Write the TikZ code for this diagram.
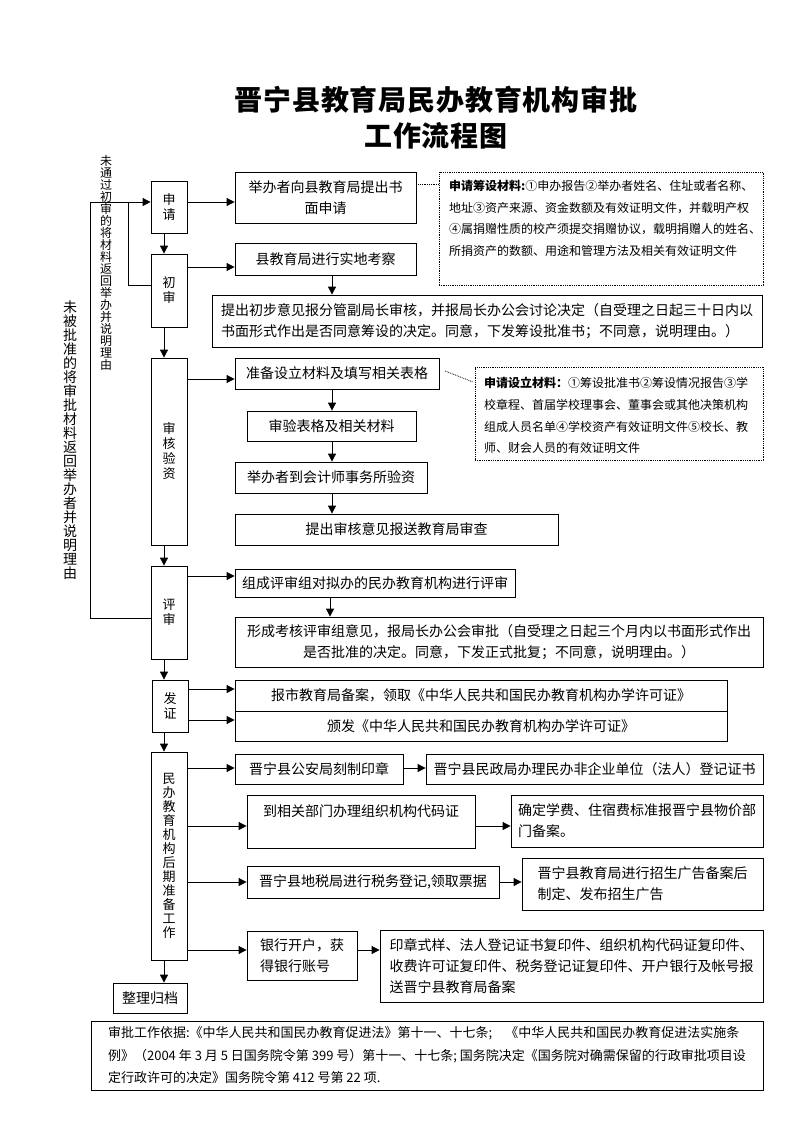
\documentclass[tikz,border=0pt]{standalone}
\usepackage{fontspec}
\setmainfont{Noto Sans CJK SC}
\usetikzlibrary{arrows.meta}
\newcommand\tightlines{\lineskiplimit=-30pt\lineskip=0pt}
\begin{document}
\begin{tikzpicture}[x=1pt,y=-1pt,
  wh/.style 2 args={minimum width=#1pt, minimum height=#2pt},
  box/.style={draw, line width=0.8pt, inner sep=0pt, align=center, font=\fontsize{14}{21}\selectfont\tightlines},
  lbox/.style={box, align=left},
  side/.style={box, font=\fontsize{13}{15}\selectfont\tightlines},
  note/.style={draw, densely dotted, line width=0.8pt},
  notetext/.style={anchor=north west, align=left, inner sep=0pt, font=\fontsize{12}{21.7}\selectfont\tightlines},
  vtext/.style={align=center, inner sep=0pt},
  arr/.style={line width=0.8pt, -{Triangle[length=8pt,width=8pt]}},
  ln/.style={line width=0.8pt},
  dotln/.style={line width=0.8pt, densely dotted}
  ]
\useasboundingbox (0,0) rectangle (793,1122);

% title
\node[inner sep=0pt, font=\fontsize{28}{36}\selectfont\bfseries\addfontfeature{LetterSpace=3}] (t1) at (436,100) {晋宁县教育局民办教育机构审批};
\node[inner sep=0pt, font=\fontsize{28}{36}\selectfont\bfseries\addfontfeature{LetterSpace=3}] (t2) at (436,136) {工作流程图};

% left column
\node[side, wh={36}{52}] (sq) at (169,207) {申\\请};
\node[side, wh={36}{73}] (cs) at (169,290.5) {初\\审};
\node[side, wh={36}{187}] (sh) at (169,451.5) {审\\核\\验\\资};
\node[side, wh={36}{93}] (ps) at (169,612.5) {评\\审};
\node[side, wh={36}{52}] (fz) at (170,706) {发\\证};
\node[side, wh={36}{208}, font=\fontsize{13}{14}\selectfont\tightlines] (mb) at (169,856) {民\\办\\教\\育\\机\\构\\后\\期\\准\\备\\工\\作};
\node[box, wh={74}{30}] (zl) at (150,998) {整理归档};

% side notes (vertical)
\node[vtext, font=\fontsize{12}{12}\selectfont\tightlines] (v1) at (106,263) {未\\通\\过\\初\\审\\的\\将\\材\\料\\返\\回\\举\\办\\并\\说\\明\\理\\由};
\node[vtext, font=\fontsize{14}{14}\selectfont\tightlines] (v2) at (70,440) {未\\被\\批\\准\\的\\将\\审\\批\\材\\料\\返\\回\\举\\办\\者\\并\\说\\明\\理\\由};

% right boxes
\node[box, wh={181}{51}] (b1) at (325.5,197.5) {举办者向县教育局提出书\\面申请};
\node[note, wh={324}{113}] (n1) at (601,228.5) {};
\node[notetext] (n1t) at (449,180) {{\bfseries 申请筹设材料:}①申办报告②举办者姓名、住址或者名称、\\地址③资产来源、资金数额及有效证明文件，并载明产权\\④属捐赠性质的校产须提交捐赠协议，载明捐赠人的姓名、\\所捐资产的数额、用途和管理方法及相关有效证明文件};
\node[box, wh={181}{32}] (b2) at (325.5,259) {县教育局进行实地考察};
\node[lbox, wh={550}{52}] (b3) at (487,321) {提出初步意见报分管副局长审核，并报局长办公会讨论决定（自受理之日起三十日内以\\书面形式作出是否同意筹设的决定。同意，下发筹设批准书；不同意，说明理由。）};

\node[box, wh={204}{31}] (b4) at (337,373.5) {准备设立材料及填写相关表格};
\node[box, wh={169}{30}] (b5) at (331.5,426) {审验表格及相关材料};
\node[box, wh={192}{31}] (b6) at (331,477.5) {举办者到会计师事务所验资};
\node[box, wh={323}{31}] (b7) at (396.5,529.5) {提出审核意见报送教育局审查};
\node[note, wh={288}{93}] (n2) at (619,413.5) {};
\node[notetext] (n2t) at (484,377) {{\bfseries 申请设立材料：}①筹设批准书②筹设情况报告③学\\校章程、首届学校理事会、董事会或其他决策机构\\组成人员名单④学校资产有效证明文件⑤校长、教\\师、财会人员的有效证明文件};

\node[box, wh={280}{28}] (b8) at (375,583) {组成评审组对拟办的民办教育机构进行评审};
\node[box, wh={528}{50}] (b9) at (499,642) {形成考核评审组意见，报局长办公会审批（自受理之日起三个月内以书面形式作出\\是否批准的决定。同意，下发正式批复；不同意，说明理由。）};

\node[box, wh={492}{31}] (b10) at (481,695.5) {报市教育局备案，领取《中华人民共和国民办教育机构办学许可证》};
\node[box, wh={492}{30}] (b11) at (481,726) {颁发《中华人民共和国民办教育机构办学许可证》};

\node[box, wh={168}{30}] (b12) at (319,769) {晋宁县公安局刻制印章};
\node[box, wh={337}{30}] (b13) at (594.5,769) {晋宁县民政局办理民办非企业单位（法人）登记证书};
\node[lbox, wh={228}{53}] (b14) at (361,821.5) {到相关部门办理组织机构代码证\\\mbox{}};
\node[lbox, wh={252}{52}] (b15) at (637,821) {确定学费、住宿费标准报晋宁县物价部\\门备案。};
\node[box, wh={252}{32}] (b16) at (373,882) {晋宁县地税局进行税务登记,领取票据};
\node[lbox, wh={241}{52}] (b17) at (642.5,884) {晋宁县教育局进行招生广告备案后\\制定、发布招生广告};
\node[lbox, wh={110}{49}] (b18) at (302,955.5) {银行开户，获\\得银行账号};
\node[lbox, wh={383}{72}] (b19) at (571.5,966) {印章式样、法人登记证书复印件、组织机构代码证复印件、\\收费许可证复印件、税务登记证复印件、开户银行及帐号报\\送晋宁县教育局备案};

\node[lbox, wh={672}{69}, font=\fontsize{13}{22.5}\selectfont\tightlines] (bb) at (427,1055.5) {审批工作依据:《中华人民共和国民办教育促进法》第十一、十七条;\quad《中华人民共和国民办教育促进法实施条\\例》（2004 年 3 月 5 日国务院令第 399 号）第十一、十七条; 国务院决定《国务院对确需保留的行政审批项目设\\定行政许可的决定》国务院令第 412 号第 22 项.};

% helper coordinates
\coordinate (ax) at (164,0);
\coordinate (bx) at (332,0);
\coordinate (cx) at (330,0);
\coordinate (L184) at (0,184);
\coordinate (L202) at (0,202);
\coordinate (L267) at (0,267);
\coordinate (L285) at (0,285);
\coordinate (L379) at (0,379);
\coordinate (L576) at (0,576);
\coordinate (L618) at (0,618);
\coordinate (L689) at (0,689);
\coordinate (L720) at (0,720);
\coordinate (L768) at (0,768);
\coordinate (L826) at (0,826);
\coordinate (L882) at (0,882);
\coordinate (L950) at (0,950);
\coordinate (o1) at (90,202);
\coordinate (i1) at (128,202);
\coordinate (d1) at (445,371);
\coordinate (d2) at (473,382);

% main vertical flow
\draw[arr] (sq.south -| ax) -- (cs.north -| ax);
\draw[arr] (cs.south -| ax) -- (sh.north -| ax);
\draw[arr] (sh.south -| ax) -- (ps.north -| ax);
\draw[arr] (ps.south -| ax) -- (fz.north -| ax);
\draw[arr] (fz.south -| ax) -- (mb.north -| ax);
\draw[arr] (mb.south -| ax) -- (zl.north -| ax);

% horizontal arrows
\draw[arr] (sq.east |- L202) -- (b1.west |- L202);
\draw[arr] (cs.east |- L267) -- (b2.west |- L267);
\draw[arr] (b2.south -| bx) -- (b3.north -| bx);
\draw[arr] (sh.east |- L379) -- (b4.west |- L379);
\draw[arr] (b4.south -| bx) -- (b5.north -| bx);
\draw[arr] (b5.south -| bx) -- (b6.north -| bx);
\draw[arr] (b6.south -| bx) -- (b7.north -| bx);
\draw[arr] (ps.east |- L576) -- (b8.west |- L576);
\draw[arr] (b8.south -| cx) -- (b9.north -| cx);
\draw[arr] (fz.east |- L689) -- (b10.west |- L689);
\draw[arr] (fz.east |- L720) -- (b11.west |- L720);
\draw[arr] (mb.east |- L768) -- (b12.west |- L768);
\draw[arr] (b12.east |- L768) -- (b13.west |- L768);
\draw[arr] (mb.east |- L826) -- (b14.west |- L826);
\draw[arr] (b14.east |- L826) -- (b15.west |- L826);
\draw[arr] (mb.east |- L882) -- (b16.west |- L882);
\draw[arr] (b16.east |- L882) -- (b17.west |- L882);
\draw[arr] (mb.east |- L950) -- (b18.west |- L950);
\draw[arr] (b18.east |- L950) -- (b19.west |- L950);

% feedback lines
\draw[arr] (ps.west |- L618) -| (o1) -- (sq.west |- o1);
\draw[ln] (cs.west |- L285) -| (i1);

% dotted connectors to notes
\draw[dotln] (b1.east |- L184) -- (n1.west |- L184);
\draw[dotln] (d1) -- (d2);
\end{tikzpicture}
\end{document}
